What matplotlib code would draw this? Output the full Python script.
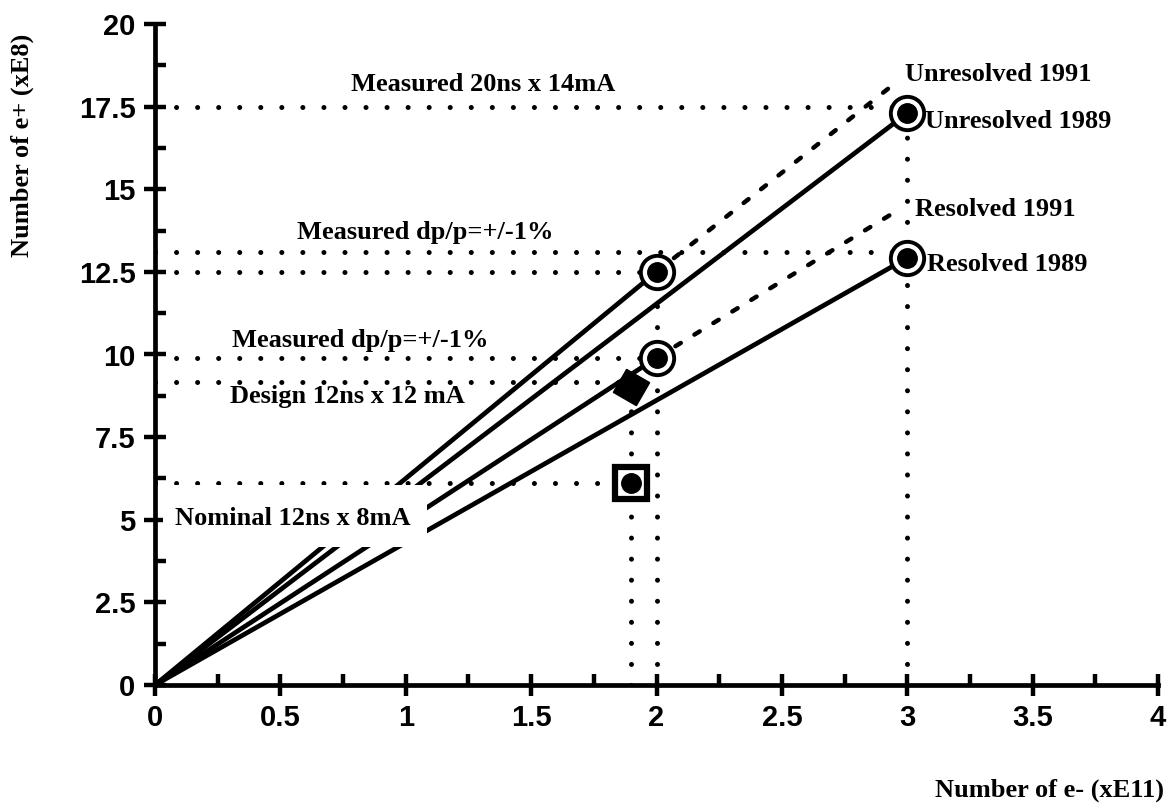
import matplotlib
matplotlib.use("Agg")
import matplotlib.pyplot as plt
from matplotlib.patches import Rectangle
from matplotlib.ticker import MultipleLocator

# Measured / design points (x: e- in 1e11, y: e+ in 1e8)
unres_1989 = (3.0, 17.3)
unres_1991 = (2.0, 12.5)
res_1989 = (3.0, 12.92)
res_1991 = (2.0, 9.9)
design_pt = (1.9, 9.02)
nominal_pt = (1.9, 6.1)

# 1991 extrapolations (dashed)
unres_1991_ext = (2.95, 18.2)
res_1991_ext = (2.97, 14.4)

# Horizontal reference levels and how far they run
ref_levels = [17.5, 13.1, 12.5, 9.9, 9.17, 6.1]
ref_ends = [3.0, 3.0, 2.0, 2.0, 1.9, 1.9]
# Vertical reference drops
drop_x = [1.9, 2.0, 3.0]
drop_top = [9.02, 12.5, 17.5]

x_ticks = [0, 0.5, 1, 1.5, 2, 2.5, 3, 3.5, 4]
x_ticklabels = ["0", "0.5", "1", "1.5", "2", "2.5", "3", "3.5", "4"]
y_ticks = [0, 2.5, 5, 7.5, 10, 12.5, 15, 17.5, 20]
y_ticklabels = ["0", "2.5", "5", "7.5", "10", "12.5", "15", "17.5", "20"]

annotations = [
    ("Measured 20ns x 14mA", 0.78, 18.16),
    ("Measured dp/p=+/-1%", 0.566, 13.68),
    ("Measured dp/p=+/-1%", 0.307, 10.41),
    ("Design 12ns x 12 mA", 0.30, 8.72),
    ("Unresolved 1991", 2.99, 18.46),
    ("Unresolved 1989", 3.07, 17.06),
    ("Resolved 1991", 3.03, 14.38),
    ("Resolved 1989", 3.08, 12.71),
]
nominal_label = ("Nominal 12ns x 8mA", 0.08, 5.05)

SERIF = "Liberation Serif"
SANS = "Liberation Sans"

fig = plt.figure(figsize=(11.76, 8.09), dpi=100)
ax = fig.add_axes([155 / 1176, 1 - 685 / 809, (1158 - 155) / 1176, (685 - 24) / 809])
ax.set_xlim(0, 4)
ax.set_ylim(0, 20)

dot = dict(color="black", lw=3.6, linestyle=(0, (0.01, 4.2)), dash_capstyle="round", zorder=2)
dash = dict(color="black", lw=3.2, linestyle=(0, (1.4, 3.6)), dash_capstyle="round", zorder=2)
solid = dict(color="black", lw=3.4, solid_capstyle="round", zorder=3)

# reference lines
for y, xe in zip(ref_levels, ref_ends):
    ax.plot([0, xe], [y, y], **dot)
for x, yt in zip(drop_x, drop_top):
    ax.plot([x, x], [0, yt], **dot)

# lines from origin through the measured points
for px, py in [unres_1991, unres_1989, res_1991, res_1989]:
    ax.plot([0, px], [0, py], **solid)

# 1991 extrapolations
ax.plot([unres_1991[0], unres_1991_ext[0]], [unres_1991[1], unres_1991_ext[1]], **dash)
ax.plot([res_1991[0], res_1991_ext[0]], [res_1991[1], res_1991_ext[1]], **dash)

# white label panel that interrupts the lines
ax.add_patch(Rectangle((0.03, 4.18), 1.055, 1.86, facecolor="white", edgecolor="none", zorder=4))

# markers: ring with a filled core
for px, py in [unres_1989, unres_1991, res_1989, res_1991]:
    ax.plot(px, py, marker="o", ms=24, mfc="white", mec="black", mew=2.8, zorder=6)
    ax.plot(px, py, marker="o", ms=14, mfc="black", mec="black", zorder=7)
ax.plot(*design_pt, marker=(4, 0, 15), ms=27, mfc="black", mec="black", zorder=6)
ax.plot(*nominal_pt, marker="s", ms=23, mfc="white", mec="black", mew=4.5, zorder=6)
ax.plot(*nominal_pt, marker="o", ms=14, mfc="black", mec="black", zorder=7)

for txt, x, y in annotations:
    ax.text(x, y, txt, family=SERIF, fontsize=19, weight="bold", ha="left", va="center", zorder=8)
ax.text(nominal_label[1], nominal_label[2], nominal_label[0], family=SERIF, fontsize=19,
        weight="bold", ha="left", va="center", zorder=8)

# axes styling
for side in ["top", "right"]:
    ax.spines[side].set_visible(False)
for side in ["left", "bottom"]:
    ax.spines[side].set_linewidth(3.4)
ax.set_xticks(x_ticks)
ax.set_xticklabels(x_ticklabels)
ax.set_yticks(y_ticks)
ax.set_yticklabels(y_ticklabels)
ax.xaxis.set_minor_locator(MultipleLocator(0.25))
ax.yaxis.set_minor_locator(MultipleLocator(1.25))
ax.tick_params(which="major", direction="inout", length=16, width=3.2)
ax.tick_params(which="minor", direction="in", length=8, width=3.2)
ax.tick_params(axis="x", which="major", pad=6)
ax.tick_params(axis="y", which="major", pad=6)
for lab in ax.get_xticklabels() + ax.get_yticklabels():
    lab.set_family(SANS)
    lab.set_fontsize(21)
    lab.set_weight("bold")

fig.text(22 / 1176, 1 - 145 / 809, "Number of e+ (xE8)", family=SERIF, fontsize=19, weight="bold",
         rotation=90, ha="center", va="center")
fig.text(1164 / 1176, 1 - 790 / 809, "Number of e- (xE11)", family=SERIF, fontsize=19, weight="bold",
         ha="right", va="center")

fig.savefig("out.png", dpi=100)
